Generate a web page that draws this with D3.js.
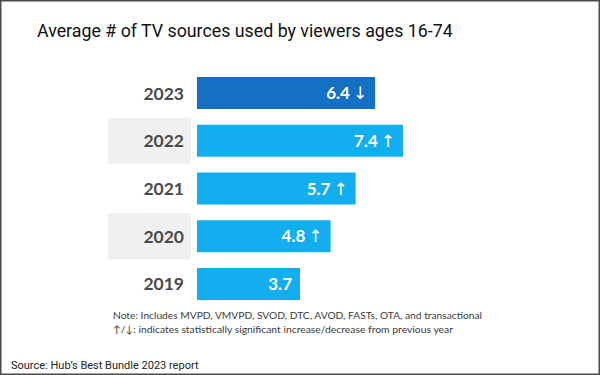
<!DOCTYPE html>
<html>
<head>
<meta charset="utf-8">
<script src="https://cdn.jsdelivr.net/npm/d3@7"></script>
<style>
    body { margin: 0; background: #fff; }
    svg { display: block; }
</style>
</head>
<body>
<div id="chart"></div>
<script>
// chart data
const years = ["2023", "2022", "2021", "2020", "2019"];
const avgSources = [6.4, 7.4, 5.7, 4.8, 3.7];
const changeArrows = ["↓", "↑", "↑", "↑", ""];
const shadedYears = ["2022", "2020"];

const titleText = "Average # of TV sources used by viewers ages 16-74";
const noteLines = [
    "Note: Includes MVPD, VMVPD, SVOD, DTC, AVOD, FASTs, OTA, and transactional",
    "↑/↓: indicates statistically significant increase/decrease from previous year"
];
const sourceText = "Source: Hub’s Best Bundle 2023 report";

const width = 600, height = 375;

const svg = d3.select("#chart").append("svg")
    .attr("width", width)
    .attr("height", height);

// outer frame
svg.append("rect")
    .attr("x", 0.75).attr("y", 0.75)
    .attr("width", width - 1.5).attr("height", height - 1.5)
    .attr("fill", "#fff")
    .attr("stroke", "#4a4a4a")
    .attr("stroke-width", 1.5);

// title
svg.append("text")
    .attr("x", 37).attr("y", 37)
    .attr("font-family", "Roboto, sans-serif")
    .attr("font-size", 17.8)
    .attr("fill", "#111")
    .text(titleText);

let data = years.map((y, i) => ({year: y, value: avgSources[i], arrow: changeArrows[i]}));

// scales
let x = d3.scaleLinear()
    .domain([0, 7.4])
    .range([197, 403]);

let y = d3.scaleBand()
    .domain(years)
    .range([61.25, 315.75])
    .padding(0.33);

// gray bands behind alternate year labels
svg.append("g")
    .selectAll("rect")
    .data(data.filter(d => shadedYears.includes(d.year)))
    .enter()
    .append("rect")
    .attr("x", 108)
    .attr("y", d => y(d.year) + y.bandwidth() / 2 - 23)
    .attr("width", 83)
    .attr("height", 46)
    .attr("fill", "#f0f0f0");

// year labels
svg.append("g")
    .selectAll("text")
    .data(data)
    .enter()
    .append("text")
    .attr("x", 184)
    .attr("y", d => y(d.year) + y.bandwidth() / 2 + 6.5)
    .attr("text-anchor", "end")
    .attr("font-family", "Lato, sans-serif")
    .attr("font-weight", "bold")
    .attr("font-size", 17.5)
    .attr("fill", "#4a4a4a")
    .text(d => d.year);

// bars
svg.append("g")
    .selectAll("rect")
    .data(data)
    .enter()
    .append("rect")
    .attr("x", x(0))
    .attr("y", d => y(d.year))
    .attr("width", d => x(d.value) - x(0))
    .attr("height", y.bandwidth())
    .attr("fill", d => d.year === "2023" ? "#1470c2" : "#12aef0");

// value labels inside bars
let vals = svg.append("g")
    .selectAll("text")
    .data(data)
    .enter()
    .append("text")
    .attr("x", d => x(d.value) - 8)
    .attr("y", d => y(d.year) + y.bandwidth() / 2 + 6)
    .attr("text-anchor", "end")
    .attr("font-family", "Lato, sans-serif")
    .attr("font-size", 17)
    .attr("fill", "#fff");

vals.append("tspan")
    .attr("font-weight", "bold")
    .text(d => d.value.toFixed(1));

vals.filter(d => d.arrow !== "")
    .append("tspan")
    .attr("font-family", "DejaVu Sans, sans-serif")
    .attr("font-weight", "normal")
    .attr("font-size", 17)
    .attr("dx", 3)
    .text(d => d.arrow);

// footnotes
svg.append("g")
    .selectAll("text")
    .data(noteLines)
    .enter()
    .append("text")
    .attr("x", 113)
    .attr("y", (d, i) => 319 + i * 13.5)
    .attr("font-family", "Lato, sans-serif")
    .attr("font-size", 10)
    .attr("fill", "#3a3a3a")
    .attr("textLength", (d, i) => i === 0 ? 369 : 340)
    .attr("lengthAdjust", "spacingAndGlyphs")
    .text(d => d);

// source
svg.append("text")
    .attr("x", 11).attr("y", 369)
    .attr("font-family", "Roboto, sans-serif")
    .attr("font-size", 11)
    .attr("fill", "#222")
    .text(sourceText);
</script>
</body>
</html>
